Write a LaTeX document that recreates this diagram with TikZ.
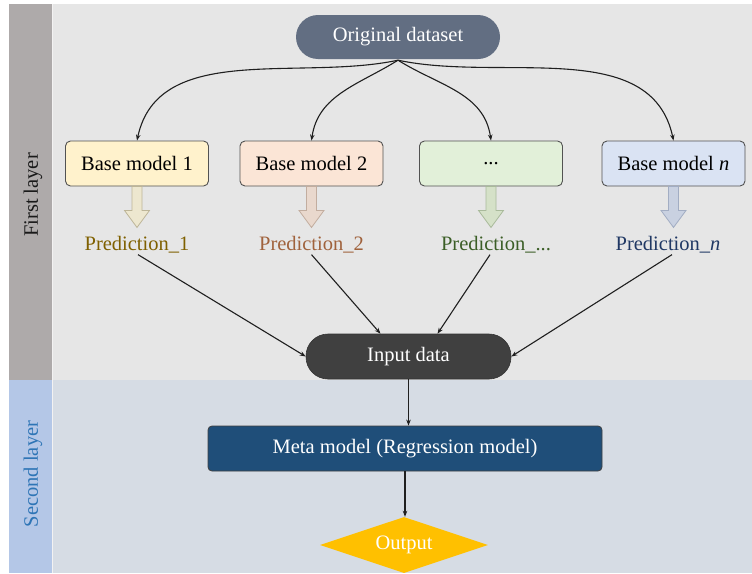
\documentclass[tikz,border=0pt]{standalone}
\usepackage{fontspec}
\setmainfont{Liberation Serif}
\usetikzlibrary{shapes.geometric,arrows.meta}

\definecolor{stripA}{HTML}{AEAAAA}
\definecolor{areaA}{HTML}{E6E6E6}
\definecolor{stripB}{HTML}{B4C7E7}
\definecolor{areaB}{HTML}{D6DCE4}
\definecolor{slate}{HTML}{626E82}
\definecolor{darkpill}{HTML}{404040}
\definecolor{metablue}{HTML}{1F4E79}
\definecolor{outgold}{HTML}{FFC000}
\definecolor{fillA}{HTML}{FFF2CC}
\definecolor{fillB}{HTML}{FBE5D6}
\definecolor{fillC}{HTML}{E2F0D9}
\definecolor{fillD}{HTML}{DAE3F3}
\definecolor{arrA}{HTML}{EDE7CF}
\definecolor{arrAe}{HTML}{BDB598}
\definecolor{arrB}{HTML}{E9D8CD}
\definecolor{arrBe}{HTML}{C2AD9F}
\definecolor{arrC}{HTML}{D5E1C8}
\definecolor{arrCe}{HTML}{A9BA9B}
\definecolor{arrD}{HTML}{C9D1E1}
\definecolor{arrDe}{HTML}{A2ADC3}
\definecolor{predA}{HTML}{7F6000}
\definecolor{predB}{HTML}{A0623C}
\definecolor{predC}{HTML}{3B5E26}
\definecolor{predD}{HTML}{203864}
\definecolor{layerblue}{HTML}{2E75B6}

% downward block arrow below a node: #1 node, #2 fill, #3 edge
\newcommand\blockdown[3]{%
  \path[fill=#2,draw=#3,line width=0.8pt]
    ([xshift=-5pt]#1.south) -- ++(0,-24) -- ++(-7.5,0) -- ++(12.5,-17)
    -- ++(12.5,17) -- ++(-7.5,0) -- ++(0,24) -- cycle;}

\begin{document}
\begin{tikzpicture}[x=1pt,y=1pt,
  every node/.style={font=\fontsize{20.5}{24}\selectfont},
  pill/.style={rounded corners=22pt,minimum width=204pt,minimum height=44pt,
    text=white,inner sep=0pt},
  basebox/.style={draw=black!68,line width=0.9pt,rounded corners=5pt,
    minimum width=143pt,minimum height=45pt,inner sep=0pt},
  pred/.style={inner sep=2pt},
  conn/.style={draw=black!88,line width=1.1pt,
    -{Stealth[length=6pt,width=4.5pt]}},
  layerlabel/.style={rotate=90}]

\useasboundingbox (0,0) rectangle (752,-573);

% layer bands
\fill[stripA] (9,-4) rectangle (52,-380);
\fill[areaA] (52,-4) rectangle (752,-380);
\fill[stripB] (9,-380) rectangle (52,-573);
\fill[areaB] (52,-380) rectangle (752,-573);
\draw[white!85!stripA,line width=0.8pt] (52,-4) -- (52,-573);

\node[layerlabel,text=black!90] (first) at (33,-195) {First layer};
\node[layerlabel,text=layerblue] (second) at (33,-474) {Second layer};

% first layer
\node[pill,fill=slate] (orig) at (398,-37) {Original dataset};

\node[basebox,fill=fillA] (b1) at (137,-163.5) {Base model 1};
\node[basebox,fill=fillB] (b2) at (311.5,-163.5) {Base model 2};
\node[basebox,fill=fillC] (b3) at (491,-163.5) {...};
\node[basebox,fill=fillD] (b4) at (673.5,-163.5) {Base model \textit{n}};

\draw[conn] ([yshift=-1pt]orig.south) to[out=192,in=78,looseness=0.95] (b1.north);
\draw[conn] ([yshift=-1pt]orig.south) to[out=212,in=82] (b2.north);
\draw[conn] ([yshift=-1pt]orig.south) to[out=-32,in=98] (b3.north);
\draw[conn] ([yshift=-1pt]orig.south) to[out=-12,in=102,looseness=0.95] (b4.north);

\blockdown{b1}{arrA}{arrAe}
\blockdown{b2}{arrB}{arrBe}
\blockdown{b3}{arrC}{arrCe}
\blockdown{b4}{arrD}{arrDe}

\node[pred,text=predA] (p1) at (137,-245) {Prediction\_1};
\node[pred,text=predB] (p2) at (311.5,-245) {Prediction\_2};
\node[pred,text=predC] (p3) at (496,-245) {Prediction\_...};
\node[pred,text=predD] (p4) at (668,-245) {Prediction\_\textit{n}};

\node[pill,fill=darkpill,draw=black!80,line width=0.6pt,minimum width=205pt,
  minimum height=45pt] (inp) at (408.5,-356.5) {Input data};

\draw[conn] ([xshift=1pt,yshift=1pt]p1.south) -- (inp.west);
\draw[conn] ([yshift=1pt]p2.south) -- ([xshift=-28pt]inp.north);
\draw[conn] ([xshift=-6pt,yshift=1pt]p3.south) -- ([xshift=29pt]inp.north);
\draw[conn] ([xshift=4pt,yshift=1pt]p4.south) -- (inp.east);

% second layer
\node[fill=metablue,draw=black!75,line width=0.8pt,rounded corners=4pt,
  minimum width=394pt,minimum height=45pt,text=white,inner sep=0pt]
  (meta) at (405,-448.5) {Meta model (Regression model)};

\node[diamond,fill=outgold,minimum width=168pt,minimum height=56pt,
  aspect=3,inner sep=0pt,text=white] (out) at (404,-545) {Output};

\draw[conn] (inp.south) -- (inp.south |- meta.north);
\draw[conn] (meta.south) -- (meta.south |- out.north);

\end{tikzpicture}
\end{document}
